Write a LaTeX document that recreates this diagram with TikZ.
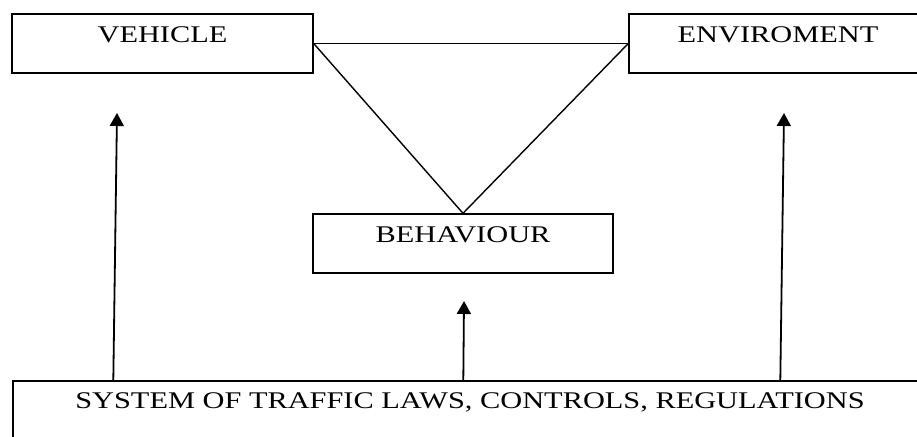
\documentclass[tikz,border=0pt]{standalone}
\usepackage{fontspec}
\setmainfont[FakeStretch=1.27]{Liberation Serif}
\usetikzlibrary{arrows.meta,calc}
\begin{document}
\begin{tikzpicture}[x=1pt,y=1pt,
  box/.style={draw=black, line width=1.4pt, rectangle, inner sep=0pt},
  lbl/.style={anchor=base, inner sep=0pt, font=\fontsize{23.9}{26}\selectfont},
  conn/.style={line width=1.4pt},
  arr/.style={line width=1.8pt, -{Triangle[width=14pt,length=13pt]}}]
\clip (0,0) rectangle (917,436);
\fill[white] (0,0) rectangle (917,436);
% boxes
\node[box, minimum width=301pt, minimum height=59pt] (veh) at (162.5,392.5) {};
\node[box, minimum width=298pt, minimum height=59pt] (env) at (778,392.5) {};
\node[box, minimum width=300pt, minimum height=59pt] (beh) at (463,192.5) {};
\node[box, minimum width=914pt, minimum height=80pt] (sys) at (470,15) {};
% labels
\node[lbl] (vehT) at ($(veh.north)+(0,-29)$) {VEHICLE};
\node[lbl] (envT) at ($(env.north)+(0,-29)$) {ENVIROMENT};
\node[lbl] (behT) at ($(beh.north)+(0,-29)$) {BEHAVIOUR};
\node[lbl] (sysT) at ($(sys.north)+(0,-28.5)$) {SYSTEM OF TRAFFIC LAWS, CONTROLS, REGULATIONS};
% triangle
\draw[conn] (veh.east) -- (env.west);
\draw[conn] (veh.east) -- (beh.north);
\draw[conn] (env.west) -- (beh.north);
% arrows
\coordinate (t1) at (117,323);
\coordinate (t2) at (464,135);
\coordinate (t3) at (784,323);
\draw[arr] ($(sys.north west)+(101,0)$) -- (t1);
\draw[arr] ($(sys.north west)+(451,0)$) -- (t2);
\draw[arr] ($(sys.north west)+(768,0)$) -- (t3);
\end{tikzpicture}
\end{document}
